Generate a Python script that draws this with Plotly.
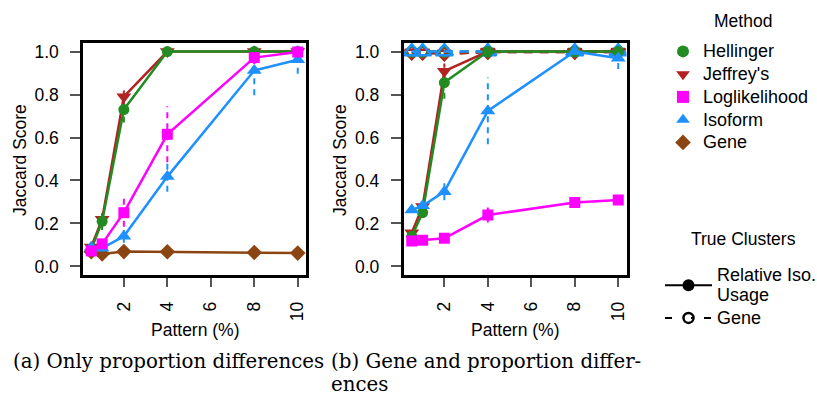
import plotly.graph_objects as go

# ---------------- data ----------------
pattern = [0.5, 1, 2, 4, 8, 10]
x_ticks = [2, 4, 6, 8, 10]
y_ticks = [0.0, 0.2, 0.4, 0.6, 0.8, 1.0]

methods = ["Hellinger", "Jeffrey's", "Loglikelihood", "Isoform", "Gene"]
colors = {"Hellinger": "#228B22", "Jeffrey's": "#B22222", "Loglikelihood": "#FF00FF",
          "Isoform": "#1E90FF", "Gene": "#8B4513"}
symbols = {"Hellinger": "circle", "Jeffrey's": "triangle-down", "Loglikelihood": "square",
           "Isoform": "triangle-up", "Gene": "diamond"}
sizes = {"Hellinger": 11, "Jeffrey's": 13, "Loglikelihood": 11, "Isoform": 13, "Gene": 12}
open_sizes = {"Hellinger": 10, "Jeffrey's": 12, "Isoform": 15, "Gene": 10}

# (a) only proportion differences -- true clusters: relative isoform usage
a_hellinger = [0.08, 0.21, 0.73, 1.0, 1.0, 1.0]
a_jeffreys = [0.09, 0.22, 0.79, 1.0, 1.0, 1.0]
a_loglik = [0.072, 0.105, 0.25, 0.615, 0.972, 0.998]
a_isoform = [0.089, 0.085, 0.14, 0.418, 0.912, 0.962]
a_gene = [0.068, 0.058, 0.069, 0.068, 0.065, 0.062]
a_sd_hellinger = [0.01, 0.04, 0.06, 0, 0, 0]
a_sd_jeffreys = [0.01, 0.02, 0.05, 0, 0, 0]
a_sd_loglik = [0.01, 0.02, 0.065, 0.13, 0.03, 0.004]
a_sd_isoform = [0.01, 0.01, 0.03, 0.07, 0.115, 0.065]
a_sd_gene = [0.004, 0.004, 0.004, 0.004, 0.004, 0.004]

# (b) gene and proportion differences -- true clusters: relative isoform usage
b_hellinger = [0.14, 0.25, 0.856, 1.0, 1.0, 1.0]
b_jeffreys = [0.157, 0.279, 0.909, 1.0, 1.0, 1.0]
b_loglik = [0.118, 0.122, 0.131, 0.239, 0.298, 0.309]
b_isoform = [0.263, 0.282, 0.348, 0.724, 1.0, 0.969]
b_sd_hellinger = [0.01, 0.02, 0.075, 0, 0, 0]
b_sd_jeffreys = [0.01, 0.02, 0.035, 0, 0, 0]
b_sd_loglik = [0.005, 0.005, 0.01, 0.035, 0.01, 0.01]
b_sd_isoform = [0.01, 0.01, 0.04, 0.155, 0.01, 0.05]

# (b) true clusters: gene
b_gene_hellinger = [1.0, 1.0, 1.0, 1.0, 1.0, 1.0]
b_gene_jeffreys = [0.995, 0.995, 0.99, 0.998, 0.998, 0.998]
b_gene_gene = [0.995, 0.995, 0.99, 0.998, 0.998, 0.998]
b_gene_isoform = [1.0, 1.0, 1.0, 1.0, 1.0, 1.0]

panel_a = [("Gene", a_gene, a_sd_gene), ("Jeffrey's", a_jeffreys, a_sd_jeffreys),
           ("Hellinger", a_hellinger, a_sd_hellinger), ("Isoform", a_isoform, a_sd_isoform),
           ("Loglikelihood", a_loglik, a_sd_loglik)]
panel_b = [("Jeffrey's", b_jeffreys, b_sd_jeffreys), ("Hellinger", b_hellinger, b_sd_hellinger),
           ("Isoform", b_isoform, b_sd_isoform), ("Loglikelihood", b_loglik, b_sd_loglik)]
panel_b_gene = [("Gene", b_gene_gene), ("Jeffrey's", b_gene_jeffreys),
                ("Hellinger", b_gene_hellinger), ("Isoform", b_gene_isoform)]

W, H = 817, 397
FONT = "Liberation Sans, Arial, sans-serif"
fig = go.Figure()


def err_trace(name, y, sd, xa, ya):
    xs, ys = [], []
    for xi, yi, si in zip(pattern, y, sd):
        if si > 0:
            xs += [xi, xi, None]
            ys += [yi - si, yi + si, None]
    return go.Scatter(x=xs, y=ys, mode="lines", xaxis=xa, yaxis=ya, showlegend=False,
                      hoverinfo="skip",
                      line=dict(color=colors[name], width=2, dash="6px,5px"))


for name, y, sd in panel_a:
    fig.add_trace(err_trace(name, y, sd, "x", "y"))
for name, y, sd in panel_a:
    fig.add_trace(go.Scatter(x=pattern, y=y, mode="lines+markers", xaxis="x", yaxis="y",
                             showlegend=False, name=name,
                             line=dict(color=colors[name], width=2.5),
                             marker=dict(symbol=symbols[name], size=sizes[name], color=colors[name])))

for name, y in panel_b_gene:
    fig.add_trace(go.Scatter(x=pattern, y=y, mode="lines+markers", xaxis="x2", yaxis="y2",
                             showlegend=False, name=name,
                             line=dict(color=colors[name], width=2.5, dash="9px,7px"),
                             marker=dict(symbol=symbols[name] + "-open", size=open_sizes[name],
                                         color=colors[name], line=dict(width=2.5, color=colors[name]))))
for name, y, sd in panel_b:
    fig.add_trace(err_trace(name, y, sd, "x2", "y2"))
for name, y, sd in panel_b:
    fig.add_trace(go.Scatter(x=pattern, y=y, mode="lines+markers", xaxis="x2", yaxis="y2",
                             showlegend=False, name=name,
                             line=dict(color=colors[name], width=2.5),
                             marker=dict(symbol=symbols[name], size=sizes[name], color=colors[name])))

LEG_TXT = '<span style="font-size:18px">{}</span>'
# legend proxies
for name in methods:
    fig.add_trace(go.Scatter(x=[None], y=[None], mode="markers", name=LEG_TXT.format(name),
                             legend="legend",
                             marker=dict(symbol=symbols[name], size=sizes[name] + 3, color=colors[name])))
fig.add_trace(go.Scatter(x=[None], y=[None], mode="lines+markers",
                         name=LEG_TXT.format("Relative Iso.") + "<br>" + LEG_TXT.format("Usage"),
                         legend="legend2", line=dict(color="black", width=2),
                         marker=dict(symbol="circle", size=12, color="black")))
fig.add_trace(go.Scatter(x=[None], y=[None], mode="lines+markers", name=LEG_TXT.format("Gene"),
                         legend="legend2", line=dict(color="black", width=2, dash="7px,19px,3px,10px"),
                         marker=dict(symbol="circle-open", size=10, color="black",
                                     line=dict(width=2.5, color="black"))))

xl = dict(range=[0.12, 10.38], tickvals=x_ticks, tickangle=-90, ticks="outside", ticklen=9,
          tickcolor="#555", tickwidth=1.5, showline=True, linecolor="black", linewidth=2.5,
          mirror=True, showgrid=False, zeroline=False, ticklabelstandoff=8,
          tickfont=dict(family=FONT, size=17.5, color="black"))
yl = dict(range=[-0.04, 1.04], tickvals=y_ticks, tickformat=".1f", ticks="outside", ticklen=10,
          tickcolor="#555", tickwidth=1.5, showline=True, linecolor="black", linewidth=2.5,
          mirror=True, showgrid=False, zeroline=False, ticklabelstandoff=8,
          tickfont=dict(family=FONT, size=17.5, color="black"))

y_dom = [1 - 275 / H, 1 - 43 / H]
fig.update_layout(
    width=W, height=H, margin=dict(l=0, r=0, t=0, b=0, autoexpand=False),
    paper_bgcolor="white", plot_bgcolor="white",
    xaxis=dict(xl, domain=[83 / W, 306 / W], anchor="y"),
    yaxis=dict(yl, domain=y_dom, anchor="x"),
    xaxis2=dict(xl, domain=[403.5 / W, 626.5 / W], anchor="y2"),
    yaxis2=dict(yl, domain=y_dom, anchor="x2"),
    legend=dict(x=663 / W, y=1 - 35 / H, xanchor="left", yanchor="top",
                font=dict(family=FONT, size=15.2, color="black"), bgcolor="rgba(0,0,0,0)",
                tracegroupgap=0, itemsizing="constant"),
    legend2=dict(x=660 / W, y=1 - 259 / H, xanchor="left", yanchor="top",
                 font=dict(family=FONT, size=15.2, color="black"), bgcolor="rgba(0,0,0,0)",
                 itemwidth=47, tracegroupgap=0),
    showlegend=True,
)

ann = []
TF = dict(family=FONT, size=17.5, color="black")
for xc in (20, 340):
    ann.append(dict(text="Jaccard Score", x=xc / W, y=1 - 160 / H, xref="paper", yref="paper",
                    xanchor="center", yanchor="middle", textangle=-90, showarrow=False, font=TF))
for xc in (195, 515):
    ann.append(dict(text="Pattern (%)", x=xc / W, y=1 - 330 / H, xref="paper", yref="paper",
                    xanchor="center", yanchor="middle", showarrow=False, font=TF))
ann.append(dict(text="Method", x=743 / W, y=1 - 21 / H, xref="paper", yref="paper",
                xanchor="center", yanchor="middle", showarrow=False, font=TF))
ann.append(dict(text="True Clusters", x=743 / W, y=1 - 239 / H, xref="paper", yref="paper",
                xanchor="center", yanchor="middle", showarrow=False, font=TF))
CAP = dict(family="DejaVu Serif, serif", size=19.8, color="black")
ann.append(dict(text="(a) Only proportion differences", x=11 / W, y=1 - 361 / H, xref="paper",
                yref="paper", xanchor="left", yanchor="middle", showarrow=False, font=CAP))
ann.append(dict(text="(b) Gene and proportion differ-", x=329 / W, y=1 - 361 / H, xref="paper",
                yref="paper", xanchor="left", yanchor="middle", showarrow=False, font=CAP))
ann.append(dict(text="ences", x=329 / W, y=1 - 384 / H, xref="paper",
                yref="paper", xanchor="left", yanchor="middle", showarrow=False, font=CAP))
fig.update_layout(annotations=ann)

fig.write_html("out.html", config={"displayModeBar": False},
               post_script="document.body.style.margin='0px';")
